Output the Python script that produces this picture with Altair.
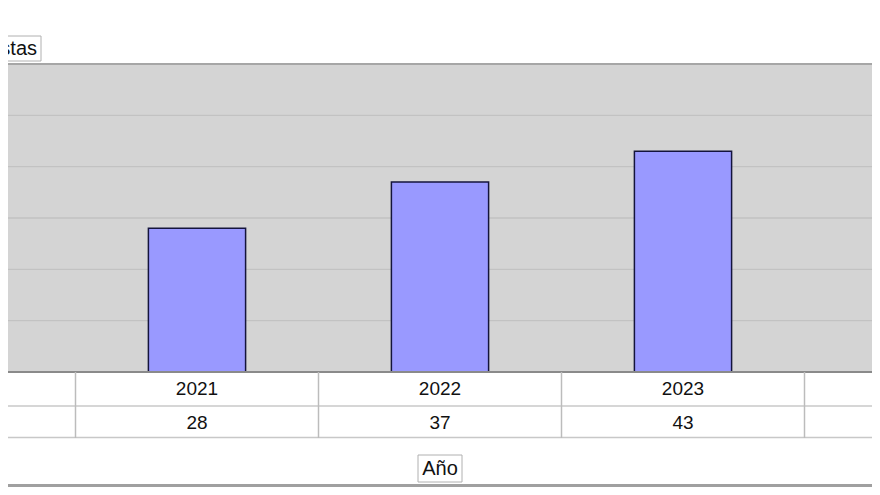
import altair as alt
import pandas as pd

years = [2020, 2021, 2022, 2023, 2024]
values = [21, 28, 37, 43, 55]
grid_values = [10, 20, 30, 40, 50]
y_title = "Propuestas"
x_title = "Año"

df = pd.DataFrame({"year": years, "value": values})
df["x0"] = df["year"] - 0.2
df["x1"] = df["year"] + 0.2
df["sep"] = df["year"] - 0.5
df["label"] = df["year"].astype(str)
df["vlabel"] = df["value"].astype(str)
grid_df = pd.DataFrame({"g": grid_values})

W, H = 864, 308
xscale = alt.Scale(domain=[2021 - 189 / 243, 2021 + (W - 189) / 243], nice=False, zero=False)
yscale = alt.Scale(domain=[0, 60], nice=False)
FONT = "Liberation Sans"

base = alt.Chart(df)

grid = alt.Chart(grid_df).mark_rule(color="#c2c2c2", strokeWidth=1.3).encode(
    x=alt.value(0), x2=alt.value(W),
    y=alt.Y("g:Q", scale=yscale, axis=None),
)

bars = base.mark_bar(fill="#9999ff", stroke="#14143c", strokeWidth=1.5, clip=True).encode(
    x=alt.X("x0:Q", scale=xscale, axis=None),
    x2="x1:Q",
    y=alt.Y("value:Q", scale=yscale, axis=None),
    y2=alt.datum(0),
)

one = alt.Chart(pd.DataFrame({"a": [0]}))

top_border = one.mark_rule(color="#a6a6a6", strokeWidth=2).encode(
    x=alt.value(0), x2=alt.value(W), y=alt.value(0))
bottom_border = one.mark_rule(color="#8a8a8a", strokeWidth=2).encode(
    x=alt.value(0), x2=alt.value(W), y=alt.value(H))
row_line1 = one.mark_rule(color="#c8c8c8", strokeWidth=1.5).encode(
    x=alt.value(0), x2=alt.value(W), y=alt.value(342))
row_line2 = one.mark_rule(color="#c8c8c8", strokeWidth=1.5).encode(
    x=alt.value(0), x2=alt.value(W), y=alt.value(373.5))

seps = base.mark_rule(color="#bcbcbc", strokeWidth=1.5).encode(
    x=alt.X("sep:Q", scale=xscale, axis=None),
    y=alt.value(H), y2=alt.value(374),
)

visible = base.transform_filter("datum.year >= 2021 && datum.year <= 2023")

year_text = visible.mark_text(font=FONT, fontSize=19, color="#111111", baseline="middle").encode(
    x=alt.X("year:Q", scale=xscale, axis=None),
    y=alt.value(325),
    text="label:N",
)
val_text = visible.mark_text(font=FONT, fontSize=19, color="#111111", baseline="middle").encode(
    x=alt.X("year:Q", scale=xscale, axis=None),
    y=alt.value(359),
    text="vlabel:N",
)

ybox = one.mark_rect(fill="white", stroke="#b0b0b0", strokeWidth=1).encode(
    x=alt.value(-120), x2=alt.value(33), y=alt.value(-28), y2=alt.value(-3))
ytext = one.mark_text(font=FONT, fontSize=20, align="right", baseline="middle", color="#111111").encode(
    x=alt.value(29), y=alt.value(-15), text=alt.value(y_title))

xbox = one.mark_rect(fill="white", stroke="#b0b0b0", strokeWidth=1).encode(
    x=alt.value(410), x2=alt.value(454), y=alt.value(391), y2=alt.value(418))
xtext = one.mark_text(font=FONT, fontSize=20, align="center", baseline="middle", color="#111111").encode(
    x=alt.value(432), y=alt.value(405), text=alt.value(x_title))

frame_bottom = one.mark_rule(color="#a0a0a0", strokeWidth=3).encode(
    x=alt.value(0), x2=alt.value(W), y=alt.value(421.5))

chart = alt.layer(
    grid, bars, top_border, bottom_border, row_line1, row_line2, seps,
    year_text, val_text, ybox, ytext, xbox, xtext, frame_bottom,
).properties(
    width=W, height=H,
    autosize=alt.AutoSizeParams(type="none"),
    padding={"left": 0, "right": 0, "top": 56, "bottom": 115},
    background="white",
).configure_view(fill="#d4d4d4", stroke=None)

chart.save("out.html", embed_options={"renderer": "svg", "actions": False})
